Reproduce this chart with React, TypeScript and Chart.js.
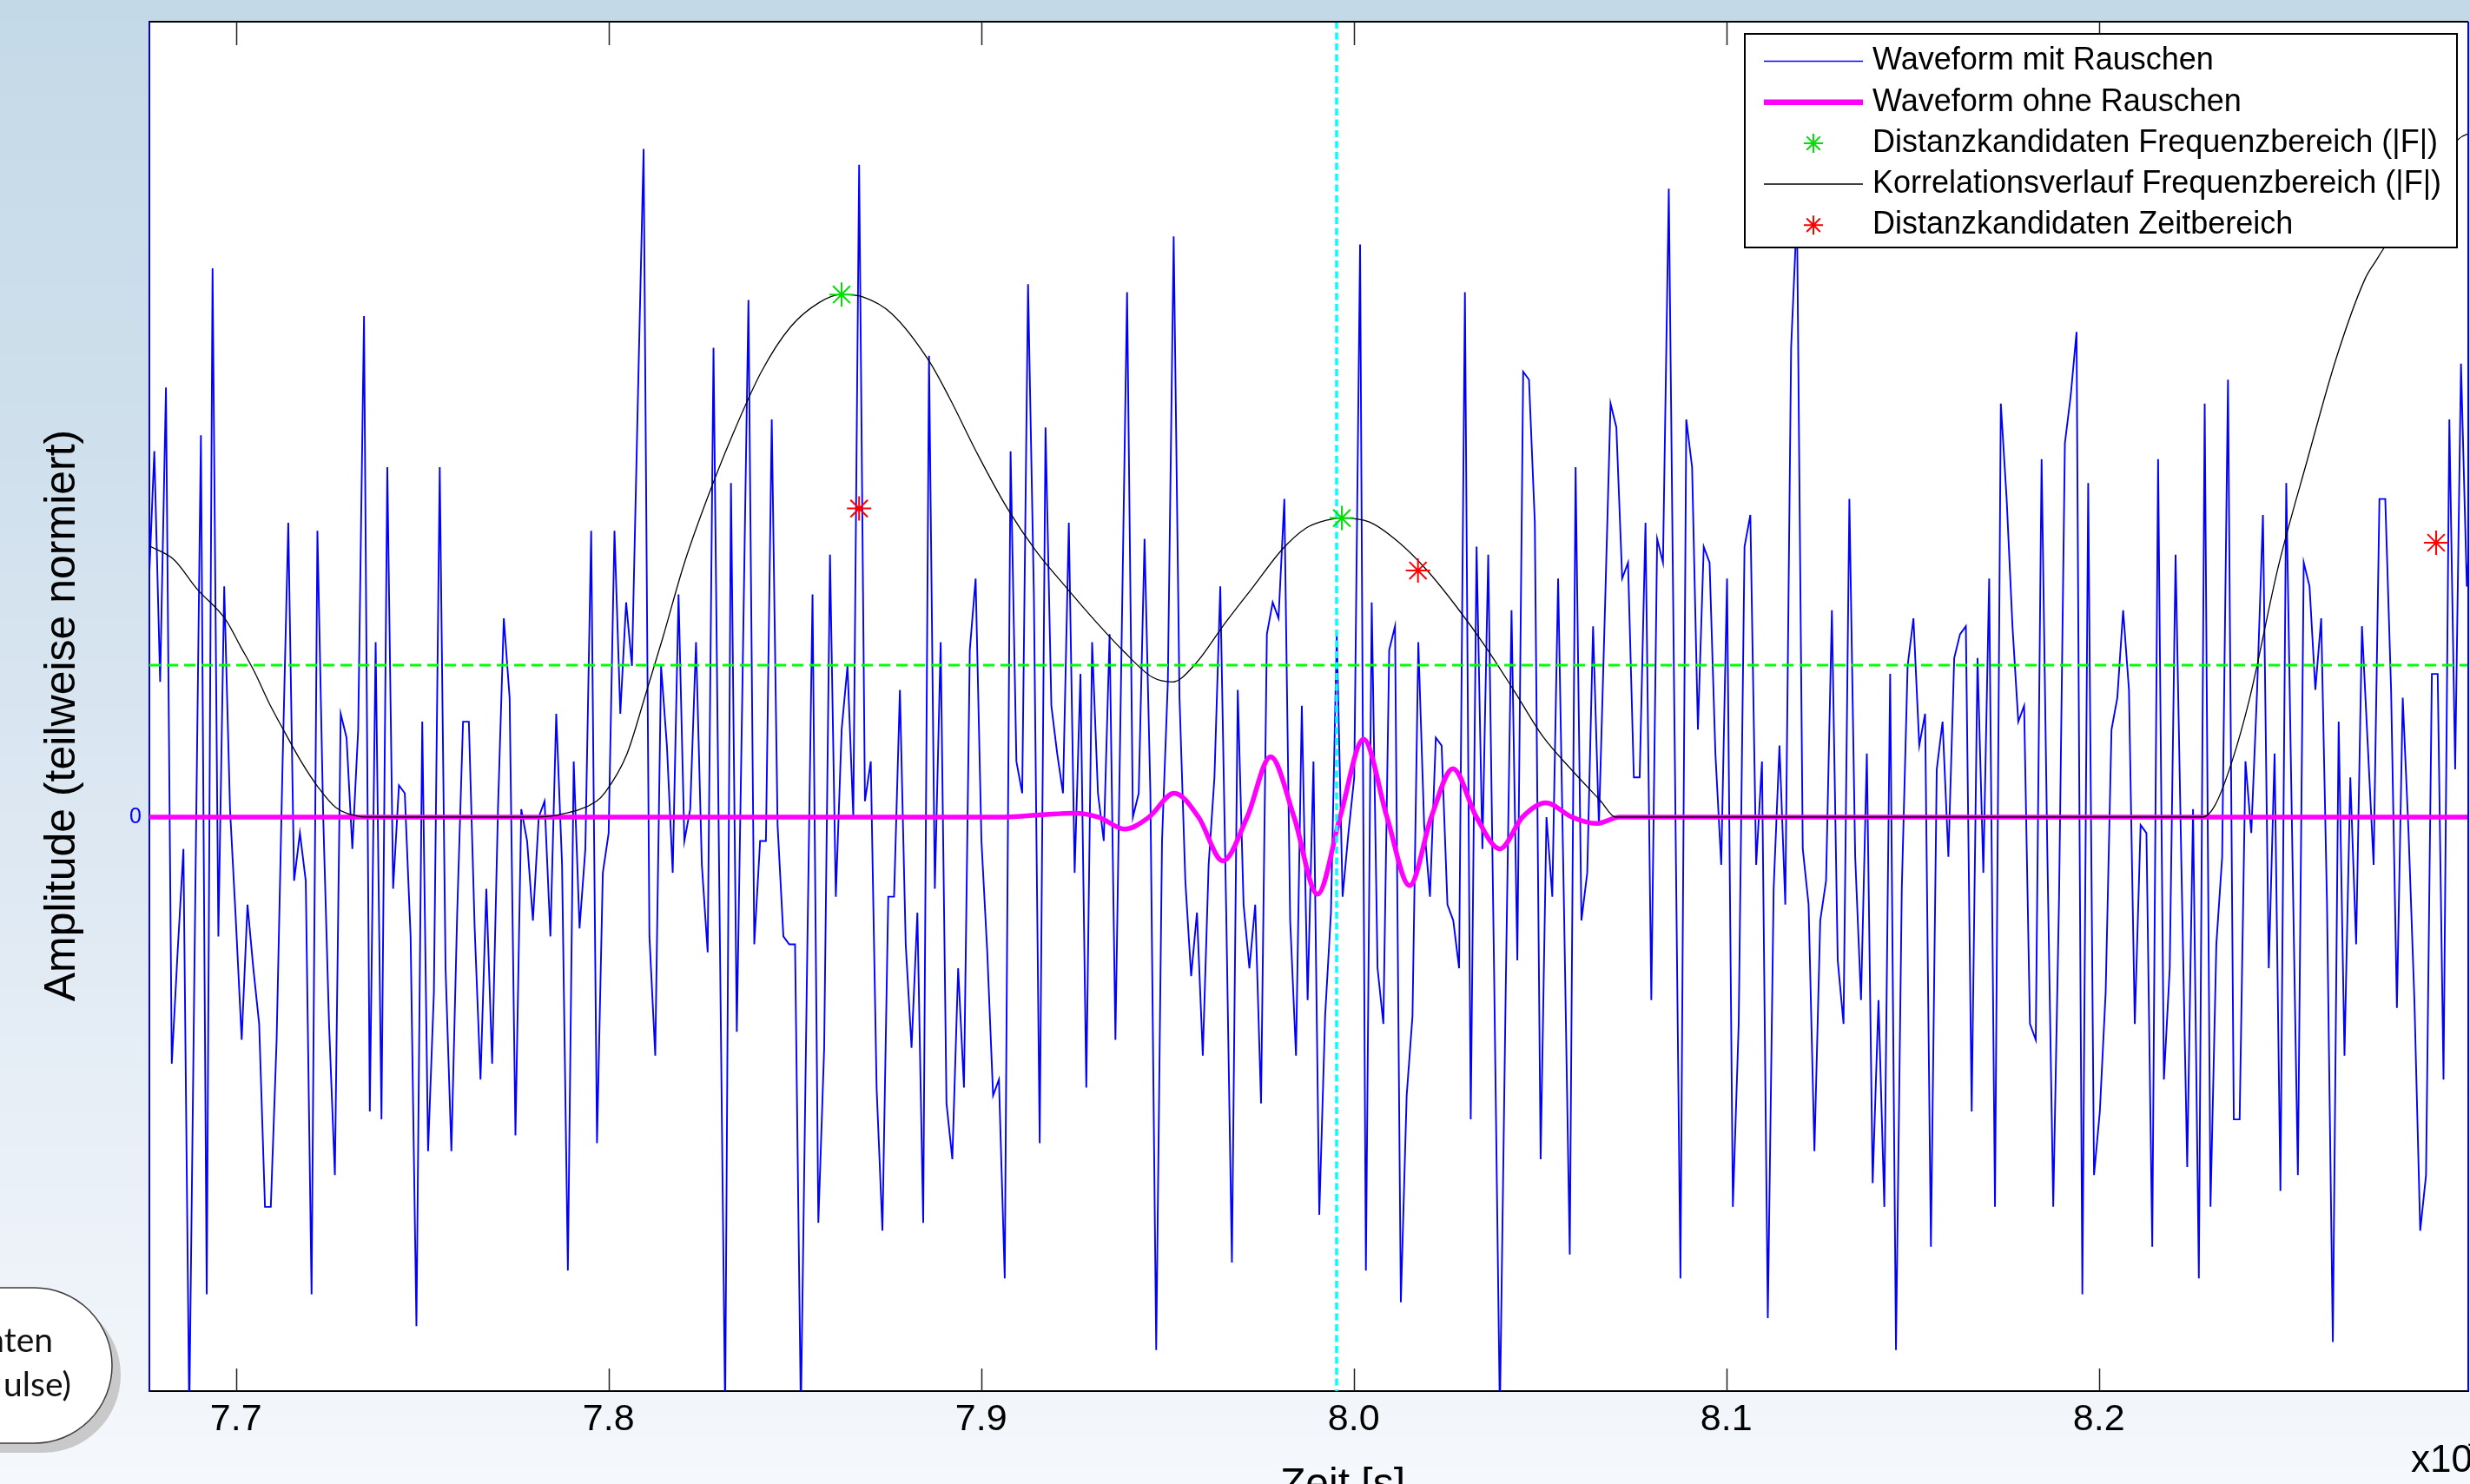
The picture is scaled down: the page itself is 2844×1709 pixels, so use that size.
import React, { useEffect, useRef } from "react";
import { Chart, registerables } from "chart.js";

Chart.register(...registerables);

const FONT = '"Liberation Sans", Arial, Helvetica, sans-serif';

// ---- axis ranges & ticks (x in units of 1e-7 s, y in arbitrary normalized units) ----
const X_MIN = 7.67676;
const X_MAX = 8.29914;
const Y_MIN = -72.16;
const Y_MAX = 100;
const X_TICKS = [7.7, 7.8, 7.9, 8.0, 8.1, 8.2];
const Y_TICKS = [0];

// ---- texts ----
const SERIES_LABELS = [
  "Waveform mit Rauschen",
  "Waveform ohne Rauschen",
  "Distanzkandidaten Frequenzbereich (|F|)",
  "Korrelationsverlauf Frequenzbereich (|F|)",
  "Distanzkandidaten Zeitbereich",
];
const Y_TITLE = "Amplitude (teilweise normiert)";
const X_TITLE = "Zeit [s]";
const X_EXP = "x10";
const X_EXP_SUP = "-7";
const NOTE_LINES = ["nten", "ulse)"];

// ---- noisy waveform: uniformly sampled ----
const NOISY_T0 = 7.67652;
const NOISY_DT = 0.0015634;
const NOISY = [
  28, 46, 17, 54, -31, -17, -4, -75, -12, 48,
  -60, 69, -15, 29, 1, -13, -28, -11, -19, -26,
  -49, -49, -28, 6, 37, -8, -2, -8, -60, 36,
  0, -26, -45, 13, 10, -4, 11, 63, -37, 22,
  -38, 44, -9, 4, 3, -15, -64, 12, -42, -22,
  44, -19, -42, -12, 12, 12, -14, -33, -9, -31,
  1, 25, 15, -40, 1, -3, -13, 0, 2, -15,
  13, -6, -57, 7, -14, -4, 36, -41, -7, -2,
  36, 13, 27, 19, 52, 84, -15, -30, 19, 9,
  -7, 28, -3, 1, 22, -6, -17, 59, -9, -75,
  42, -27, 18, 65, -16, -3, -3, 50, -1, -15,
  -16, -16, -75, -22, 28, -51, -29, 33, -10, 11,
  19, 0, 82, 2, 7, -34, -52, -10, -10, 16,
  -16, -29, -12, -51, 58, -9, 22, -36, -43, -19,
  -34, 21, 30, -3, -17, -35, -33, -58, 46, 7,
  3, 67, 28, -41, 49, 14, 8, 3, 37, -7,
  18, -34, 22, 3, -3, 23, -28, 19, 66, 0,
  3, 35, 3, -67, -3, 17, 73, 15, -8, -20,
  -12, -30, -6, 5, 29, -11, -56, 16, -11, -19,
  -11, -36, 23, 27, 25, 40, -13, -30, 14, -23,
  7, -50, -25, -12, 23, -10, -2, 5, 72, -57,
  27, -19, -26, 21, 24, -61, -35, -25, 22, -1,
  -10, 10, 9, -11, -13, -19, 66, -38, 34, -4,
  33, -19, -75, -22, 26, -18, 56, 55, 37, -43,
  0, -10, 30, -11, -55, 44, -13, -7, 24, -1,
  25, 52, 49, 30, 32, 5, 5, 37, -23, 35,
  32, 79, 10, -58, 50, 44, 11, 34, 32, 8,
  -6, 30, -49, -26, 34, 38, -6, 7, -63, -9,
  9, -11, 59, 76, -4, -11, -42, -13, -8, 26,
  -18, -26, 40, -5, -23, 8, -46, -23, -49, 18,
  -67, -9, 19, 25, 9, 13, -54, 6, 12, -5,
  20, 23, 24, -37, 20, -7, 30, -49, 52, 40,
  24, 12, 14, -26, -28, 45, -5, -49, -10, 47,
  53, 61, -60, 42, -45, -37, -22, 11, 15, 26,
  16, -26, -1, -2, -54, 45, -33, -19, 33, -6,
  -44, 1, -58, 52, -49, -16, -5, 55, -38, -38,
  7, -2, 16, 38, -19, 8, -47, 42, -2, -45,
  32, 29, 16, 25, -11, -66, 12, -30, 5, -16,
  24, 9, -6, 40, 40, 16, -24, 15, -2, -23,
  -52, -45, 18, 18, -33, 50, 6, 57, 29, 42,
];

// ---- clean waveform (extrema and zero crossings) ----
const CLEAN_T = [
  7.67676, 7.90473, 7.91638, 7.92494, 7.93154, 7.93853, 7.94506, 7.95182, 7.95835,
  7.96487, 7.9714, 7.9777, 7.98399, 7.99028, 7.99634, 8.00263, 8.00893, 8.01499,
  8.02082, 8.02664, 8.03294, 8.03923, 8.04529, 8.05158, 8.05858, 8.0651, 8.0714, 8.29914,
];
const CLEAN_V = [
  0, 0, 0.3, 0.5, 0, -1.5, 0, 3.0, 0,
  -5.5, 0, 7.6, 0, -9.7, 0, 9.8, 0, -8.6,
  0, 6.1, 0, -4.0, 0, 1.8, 0, -0.8, 0, 0,
];

// ---- correlation curve ----
const CORR_T = [
  7.67669, 7.68329, 7.68951, 7.69727, 7.70117, 7.70503, 7.70893, 7.71282, 7.71748, 7.72214,
  7.72681, 7.73301, 7.73613, 7.77886, 7.78662, 7.79674, 7.79907, 7.8049, 7.80993, 7.81459,
  7.82005, 7.82548, 7.83324, 7.84103, 7.84879, 7.85655, 7.86254, 7.8682, 7.87599, 7.88608,
  7.89151, 7.8993, 7.90706, 7.91483, 7.92261, 7.93037, 7.93814, 7.94592, 7.95135, 7.95758,
  7.96534, 7.9731, 7.98089, 7.98709, 7.99098, 7.9968, 8.0042, 8.01196, 8.01972, 8.02751,
  8.03527, 8.04303, 8.05082, 8.05858, 8.06634, 8.07023, 8.22797, 8.23107, 8.23573, 8.2404,
  8.24816, 8.25594, 8.26371, 8.27147, 8.27443, 8.2763, 8.28702, 8.29669, 8.2996,
];
const CORR_V = [
  34.1, 32.4, 28.7, 24.8, 21.5, 18.2, 14.3, 10.9, 7.0, 3.7,
  1.2, 0.1, 0, 0, 0.3, 2.0, 3.1, 7.9, 15.4, 22.6,
  31.5, 38.8, 48.0, 56.0, 61.6, 64.7, 65.7, 65.4, 63.3, 57.3,
  52.7, 45.4, 38.8, 33.4, 29.0, 24.8, 20.9, 17.6, 17.0, 19.3,
  24.3, 29.0, 33.7, 36.3, 37.1, 37.6, 37.1, 34.6, 31.0, 26.5,
  21.5, 15.9, 10.1, 5.9, 2.0, 0, 0, 1.4, 7.0, 14.8,
  31.5, 44.9, 57.7, 67.7, 70.0, 71.4, 79.0, 85.3, 86.0,
];

// ---- candidates ----
const FREQ_CAND_T = [7.86254, 7.9968];
const FREQ_CAND_V = [65.7, 37.6];
const TIME_CAND_T = [7.86725, 8.01725, 8.29051];
const TIME_CAND_V = [38.8, 31.0, 34.5];

// ---- reference lines ----
const THRESHOLD = 19.1;
const MARKER_T = 7.99541;

const pts = (ts: number[], vs: number[]) => ts.map((t, i) => ({ x: t, y: vs[i] }));

function drawStar(ctx: CanvasRenderingContext2D, x: number, y: number, r: number) {
  ctx.beginPath();
  for (let k = 0; k < 4; k++) {
    const a = (k * Math.PI) / 4;
    ctx.moveTo(x - Math.cos(a) * r, y - Math.sin(a) * r);
    ctx.lineTo(x + Math.cos(a) * r, y + Math.sin(a) * r);
  }
  ctx.stroke();
}

const decorPlugin = {
  id: "decor",
  beforeDraw(chart: any) {
    const { ctx, width, height, chartArea: a } = chart;
    ctx.save();
    const g = ctx.createLinearGradient(0, 0, 0, height);
    g.addColorStop(0, "#c4d9e7");
    g.addColorStop(0.3, "#cfe0ec");
    g.addColorStop(0.6, "#dfe9f3");
    g.addColorStop(1, "#f5f8fc");
    ctx.fillStyle = g;
    ctx.fillRect(0, 0, width, height);

    // partially visible rounded callout (bottom left)
    const cy = 1572.5, r = 89.5, cx = 39.5;
    const pill = (dx: number, dy: number) => {
      ctx.beginPath();
      ctx.moveTo(-300 + dx, cy - r + dy);
      ctx.lineTo(cx + dx, cy - r + dy);
      ctx.arc(cx + dx, cy + dy, r, -Math.PI / 2, Math.PI / 2);
      ctx.lineTo(-300 + dx, cy + r + dy);
      ctx.closePath();
    };
    pill(10, 11);
    ctx.fillStyle = "#c9c9c9";
    ctx.fill();
    pill(0, 0);
    ctx.fillStyle = "#ffffff";
    ctx.fill();
    ctx.strokeStyle = "#3c3c3c";
    ctx.lineWidth = 1.5;
    ctx.stroke();
    ctx.fillStyle = "#111111";
    ctx.font = '39px Lato, "Open Sans", sans-serif';
    ctx.textAlign = "right";
    ctx.textBaseline = "alphabetic";
    ctx.fillText(NOTE_LINES[0], 61, 1557);
    ctx.fillText(NOTE_LINES[1], 82, 1608);

    ctx.fillStyle = "#ffffff";
    ctx.fillRect(a.left, a.top, a.right - a.left, a.bottom - a.top);
    ctx.restore();
  },
  afterDraw(chart: any) {
    const { ctx, chartArea: a } = chart;
    const xs = chart.scales.x;
    ctx.save();
    // top & right frame
    ctx.lineWidth = 2;
    ctx.strokeStyle = "#000000";
    ctx.beginPath();
    ctx.moveTo(a.left, a.top);
    ctx.lineTo(a.right, a.top);
    ctx.stroke();
    ctx.strokeStyle = "#0000ff";
    ctx.beginPath();
    ctx.moveTo(a.right, a.top);
    ctx.lineTo(a.right, a.bottom);
    ctx.stroke();
    // inward ticks
    ctx.strokeStyle = "#222222";
    ctx.lineWidth = 1.5;
    for (const t of X_TICKS) {
      const px = Math.round(xs.getPixelForValue(t)) + 0.5;
      ctx.beginPath();
      ctx.moveTo(px, a.bottom);
      ctx.lineTo(px, a.bottom - 26);
      ctx.moveTo(px, a.top);
      ctx.lineTo(px, a.top + 27);
      ctx.stroke();
    }

    // legend
    const L = { x0: 2009, y0: 39, x1: 2829, y1: 285, row0: 70.5, rowH: 47.2, lx0: 2031, lx1: 2145, tx: 2156 };
    ctx.fillStyle = "#ffffff";
    ctx.fillRect(L.x0, L.y0, L.x1 - L.x0, L.y1 - L.y0);
    ctx.strokeStyle = "#000000";
    ctx.lineWidth = 2;
    ctx.strokeRect(L.x0, L.y0, L.x1 - L.x0, L.y1 - L.y0);
    ctx.font = `36px ${FONT}`;
    ctx.textAlign = "left";
    ctx.textBaseline = "middle";
    chart.data.datasets.forEach((ds: any, i: number) => {
      if (!ds.inLegend) return;
      const y = L.row0 + L.rowH * i;
      if (ds.showLine === false) {
        ctx.strokeStyle = ds.pointBorderColor;
        ctx.lineWidth = 2;
        drawStar(ctx, (L.lx0 + L.lx1) / 2, y, 11);
      } else {
        ctx.strokeStyle = ds.borderColor;
        ctx.lineWidth = ds.legendWidth;
        ctx.beginPath();
        ctx.moveTo(L.lx0, y);
        ctx.lineTo(L.lx1, y);
        ctx.stroke();
      }
      ctx.fillStyle = "#000000";
      ctx.fillText(ds.label, L.tx, y);
    });

    // y title
    ctx.save();
    ctx.translate(86, 824);
    ctx.rotate(-Math.PI / 2);
    ctx.font = `50px ${FONT}`;
    ctx.textAlign = "center";
    ctx.textBaseline = "alphabetic";
    ctx.fillStyle = "#000000";
    ctx.fillText(Y_TITLE, 0, 0);
    ctx.restore();

    // x title (cut off at the bottom) and exponent
    ctx.fillStyle = "#000000";
    ctx.textAlign = "left";
    ctx.textBaseline = "alphabetic";
    ctx.font = `48px ${FONT}`;
    ctx.fillText(X_TITLE, 1474, 1724);
    ctx.font = `44px ${FONT}`;
    ctx.fillText(X_EXP, 2776, 1695);
    ctx.font = `30px ${FONT}`;
    ctx.fillText(X_EXP_SUP, 2841, 1672);
    ctx.restore();
  },
};

export default function App() {
  const ref = useRef<HTMLCanvasElement>(null);
  useEffect(() => {
    const noisyPts = NOISY.map((v, i) => ({ x: NOISY_T0 + i * NOISY_DT, y: v }));
    const chart = new Chart(ref.current as HTMLCanvasElement, {
      type: "line",
      data: {
        datasets: [
          {
            label: SERIES_LABELS[0], data: noisyPts, borderColor: "#0000ff", borderWidth: 1.9,
            pointRadius: 0, tension: 0, order: 7, inLegend: true, legendWidth: 1.5,
          } as any,
          {
            label: SERIES_LABELS[1], data: pts(CLEAN_T, CLEAN_V), borderColor: "#ff00ff", borderWidth: 5.5,
            pointRadius: 0, cubicInterpolationMode: "monotone", order: 6, inLegend: true, legendWidth: 6.5,
          } as any,
          {
            label: SERIES_LABELS[2], data: pts(FREQ_CAND_T, FREQ_CAND_V), showLine: false, pointStyle: "star",
            pointRadius: 14, pointBorderColor: "#00e000", pointBorderWidth: 2, borderColor: "#00e000",
            order: 2, inLegend: true,
          } as any,
          {
            label: SERIES_LABELS[3], data: pts(CORR_T, CORR_V), borderColor: "#000000", borderWidth: 1.3,
            pointRadius: 0, cubicInterpolationMode: "monotone", order: 5, inLegend: true, legendWidth: 1.5,
          } as any,
          {
            label: SERIES_LABELS[4], data: pts(TIME_CAND_T, TIME_CAND_V), showLine: false, pointStyle: "star",
            pointRadius: 14, pointBorderColor: "#ff0000", pointBorderWidth: 2, borderColor: "#ff0000",
            order: 1, inLegend: true,
          } as any,
          {
            label: "threshold", data: [{ x: X_MIN, y: THRESHOLD }, { x: X_MAX, y: THRESHOLD }],
            borderColor: "#00ff00", borderWidth: 3, borderDash: [13, 7], pointRadius: 0, order: 4,
          } as any,
          {
            label: "marker", data: [{ x: MARKER_T, y: Y_MAX }, { x: MARKER_T, y: Y_MIN }],
            borderColor: "#00ffff", borderWidth: 3.5, borderDash: [8, 4.5], pointRadius: 0, order: 3,
          } as any,
        ],
      },
      options: {
        animation: false,
        responsive: false,
        devicePixelRatio: 1,
        events: [],
        layout: { autoPadding: false, padding: { left: 0, top: 25, right: 2, bottom: 0 } },
        plugins: { legend: { display: false }, tooltip: { enabled: false }, title: { display: false } },
        scales: {
          x: {
            type: "linear",
            position: "bottom",
            min: X_MIN,
            max: X_MAX,
            afterBuildTicks: (s: any) => { s.ticks = X_TICKS.map((v) => ({ value: v })); },
            afterFit: (s: any) => { s.height = 107; },
            grid: { display: true, drawOnChartArea: false, drawTicks: false, color: "rgba(0,0,0,0)" },
            border: { display: true, color: "#000000", width: 2 },
            ticks: {
              color: "#000000", font: { family: FONT, size: 43 }, padding: 7, maxRotation: 0,
              autoSkip: false, callback: (v: any) => Number(v).toFixed(1),
            },
          },
          y: {
            type: "linear",
            min: Y_MIN,
            max: Y_MAX,
            afterBuildTicks: (s: any) => { s.ticks = Y_TICKS.map((v) => ({ value: v })); },
            afterFit: (s: any) => { s.width = 172; },
            grid: { display: true, drawOnChartArea: false, drawTicks: false, color: "rgba(0,0,0,0)" },
            border: { display: true, color: "#0000ff", width: 2 },
            ticks: { color: "#0000ff", font: { family: FONT, size: 25 }, padding: 9, callback: (v: any) => String(v) },
          },
        },
      } as any,
      plugins: [decorPlugin],
    });
    return () => chart.destroy();
  }, []);
  return (
    <div style={{ position: "fixed", left: 0, top: 0, width: 2844, height: 1709, overflow: "hidden" }}>
      <canvas ref={ref} width={2844} height={1709} style={{ display: "block", width: 2844, height: 1709 }} />
    </div>
  );
}
